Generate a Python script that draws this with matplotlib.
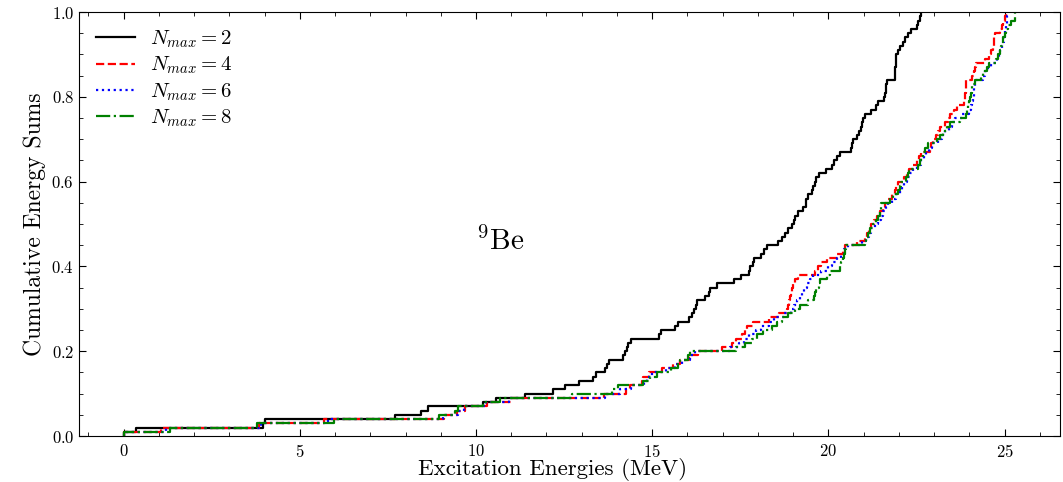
import numpy as np
import matplotlib
matplotlib.use("Agg")
import matplotlib.pyplot as plt
from matplotlib.ticker import AutoMinorLocator

# Excitation energies (MeV) of the lowest 100 states for each model space
E_nmax2 = [0.00, 0.34, 3.96, 4.00, 7.71, 8.44, 8.64, 10.21, 10.57, 11.39,
           12.18, 12.53, 12.91, 13.33, 13.41, 13.66, 13.71, 13.78, 14.18, 14.23,
           14.28, 14.32, 14.40, 15.20, 15.24, 15.65, 15.72, 16.03, 16.12, 16.18,
           16.24, 16.27, 16.50, 16.60, 16.64, 16.85, 17.32, 17.53, 17.75, 17.78,
           17.86, 17.90, 18.10, 18.18, 18.25, 18.57, 18.67, 18.76, 18.86, 18.98,
           19.02, 19.05, 19.14, 19.28, 19.35, 19.37, 19.42, 19.52, 19.57, 19.62,
           19.66, 19.74, 19.93, 20.09, 20.15, 20.23, 20.32, 20.63, 20.66, 20.70,
           20.80, 20.86, 20.91, 20.94, 20.98, 21.03, 21.22, 21.34, 21.40, 21.57,
           21.60, 21.62, 21.64, 21.65, 21.88, 21.89, 21.90, 21.91, 21.92, 21.93,
           21.98, 22.02, 22.12, 22.17, 22.26, 22.35, 22.50, 22.55, 22.60, 22.64]

E_nmax4 = [0.00, 1.05, 3.85, 5.68, 9.10, 9.45, 9.69, 10.30, 11.00, 13.63,
           14.27, 14.37, 14.70, 14.74, 14.90, 15.27, 15.58, 15.78, 16.05, 16.30,
           16.97, 17.25, 17.39, 17.55, 17.62, 17.70, 17.87, 18.30, 18.60, 18.82,
           18.84, 18.87, 18.90, 18.93, 18.96, 19.00, 19.05, 19.14, 19.62, 19.70,
           19.80, 19.95, 20.23, 20.40, 20.46, 20.80, 21.03, 21.10, 21.15, 21.22,
           21.30, 21.38, 21.46, 21.55, 21.60, 21.70, 21.80, 21.88, 21.93, 21.97,
           22.15, 22.22, 22.30, 22.40, 22.50, 22.58, 22.64, 22.88, 22.92, 22.97,
           23.05, 23.12, 23.17, 23.30, 23.40, 23.44, 23.55, 23.64, 23.86, 23.87,
           23.88, 23.89, 23.90, 23.91, 24.08, 24.12, 24.16, 24.20, 24.45, 24.57,
           24.62, 24.66, 24.69, 24.71, 24.72, 24.88, 24.92, 24.96, 25.00, 25.05]

E_nmax6 = [0.00, 1.20, 3.90, 5.80, 9.05, 9.50, 9.65, 10.28, 10.95, 13.66,
           14.10, 14.40, 14.78, 14.85, 15.00, 15.40, 15.65, 15.85, 16.08, 16.20,
           17.20, 17.45, 17.60, 17.75, 17.95, 18.10, 18.30, 18.45, 18.75, 18.95,
           19.02, 19.10, 19.18, 19.25, 19.32, 19.40, 19.48, 19.55, 19.80, 19.98,
           20.10, 20.25, 20.35, 20.45, 20.55, 20.95, 21.08, 21.15, 21.22, 21.32,
           21.40, 21.50, 21.56, 21.62, 21.68, 21.80, 21.92, 22.02, 22.08, 22.14,
           22.24, 22.32, 22.40, 22.52, 22.62, 22.70, 22.76, 22.85, 22.95, 23.10,
           23.22, 23.32, 23.42, 23.50, 23.60, 23.80, 23.98, 24.04, 24.08, 24.10,
           24.12, 24.14, 24.16, 24.20, 24.38, 24.45, 24.52, 24.62, 24.78, 24.85,
           24.88, 24.92, 24.95, 24.98, 25.00, 25.02, 25.04, 25.06, 25.08, 25.10]

E_nmax8 = [0.00, 1.33, 3.79, 5.96, 8.94, 9.41, 9.50, 10.20, 10.69, 12.72,
           13.85, 14.02, 14.75, 14.94, 15.13, 15.52, 15.74, 15.79, 16.02, 16.07,
           17.39, 17.63, 17.82, 17.98, 18.15, 18.39, 18.53, 18.67, 18.86, 19.05,
           19.19, 19.43, 19.58, 19.62, 19.66, 19.72, 19.76, 19.95, 20.04, 20.32,
           20.36, 20.40, 20.43, 20.46, 20.51, 21.03, 21.07, 21.12, 21.17, 21.26,
           21.35, 21.42, 21.45, 21.48, 21.50, 21.74, 21.83, 21.98, 22.03, 22.07,
           22.21, 22.25, 22.30, 22.53, 22.60, 22.64, 22.68, 22.73, 22.82, 23.07,
           23.17, 23.26, 23.36, 23.45, 23.72, 23.91, 23.94, 23.96, 24.00, 24.03,
           24.05, 24.07, 24.08, 24.15, 24.34, 24.38, 24.50, 24.57, 24.75, 24.82,
           24.86, 24.90, 24.93, 24.95, 25.00, 25.05, 25.09, 25.19, 25.28, 25.30]

series_labels = [r"$N_{max}=2$", r"$N_{max}=4$", r"$N_{max}=6$", r"$N_{max}=8$"]
series_data = [E_nmax2, E_nmax4, E_nmax6, E_nmax8]
colors = ["k", "r", "b", "g"]
styles = ["-", "--", ":", "-."]

plt.rcParams.update({
    "font.family": "serif",
    "font.serif": ["cmr10"],
    "mathtext.fontset": "cm",
    "axes.formatter.use_mathtext": True,
    "xtick.direction": "in",
    "ytick.direction": "in",
    "xtick.top": True,
    "ytick.right": True,
    "xtick.minor.visible": True,
    "ytick.minor.visible": True,
    "xtick.major.size": 5,
    "ytick.major.size": 5,
    "xtick.minor.size": 3,
    "ytick.minor.size": 3,
    "axes.linewidth": 0.8,
})

fig = plt.figure(figsize=(10.63, 4.82), dpi=100)
ax = fig.add_axes([0.0743, 0.0954, 0.9227, 0.8796])

for E, lab, c, ls in zip(series_data, series_labels, colors, styles):
    E = np.asarray(E)
    n = len(E)
    y = np.arange(1, n + 1) / n
    xs = np.concatenate([[E[0]], E])
    ys = np.concatenate([[0.0], y])
    ax.step(xs, ys, where="post", color=c, linestyle=ls, lw=1.6, label=lab)

ax.set_ylim(0, 1)
ax.set_xticks([0, 5, 10, 15, 20, 25])
ax.set_yticks([0.0, 0.2, 0.4, 0.6, 0.8, 1.0])
ax.xaxis.set_minor_locator(AutoMinorLocator(5))
ax.yaxis.set_minor_locator(AutoMinorLocator(4))
ax.tick_params(labelsize=12)
ax.tick_params(axis="x", pad=5)

ax.set_xlabel("Excitation Energies (MeV)", fontsize=16.5)
ax.xaxis.set_label_coords(0.483, -0.052)
ax.set_ylabel("Cumulative Energy Sums", fontsize=17)
ax.text(10.0, 0.46, r"$^{9}$Be", fontsize=21, va="center", ha="left")

ax.legend(loc="upper left", frameon=False, fontsize=15, handlelength=1.9,
          handletextpad=0.7, labelspacing=0.22, borderaxespad=0.4)

fig.savefig("out.png", dpi=100)
